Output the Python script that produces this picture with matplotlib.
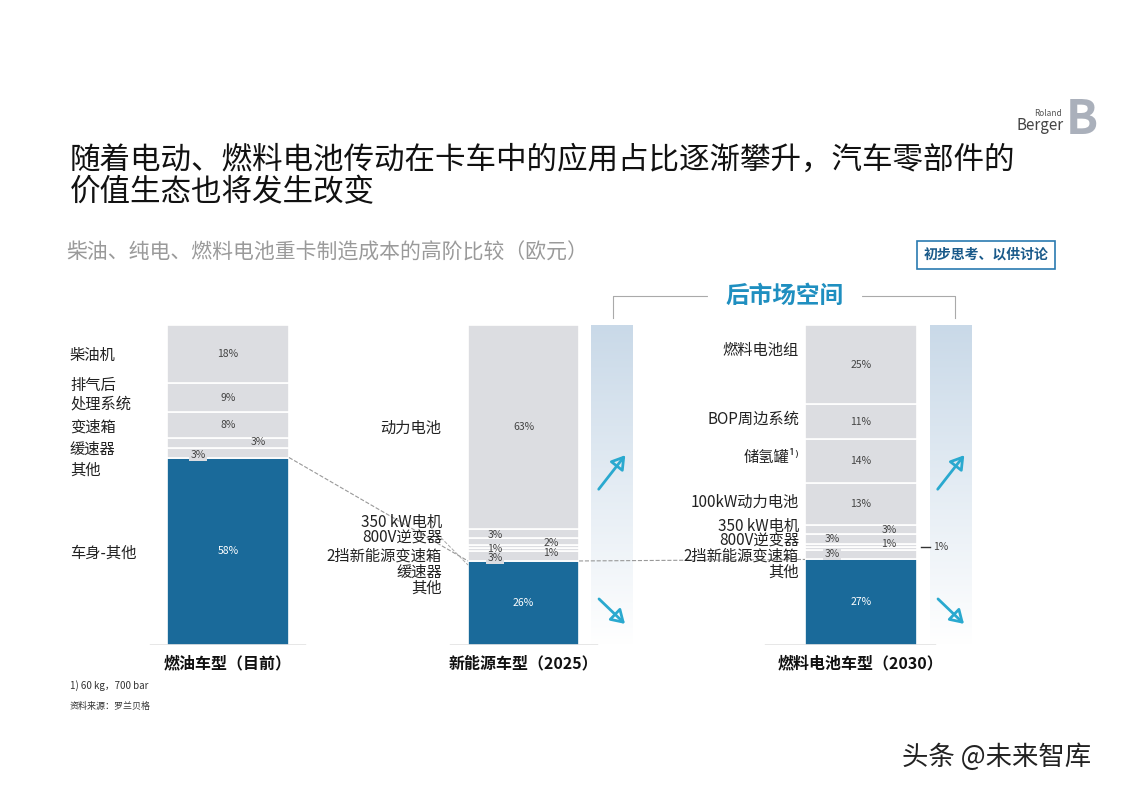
import matplotlib
matplotlib.use("Agg")
import matplotlib.pyplot as plt
import numpy as np
from matplotlib.colors import LinearSegmentedColormap

plt.rcParams['font.family'] = ['Noto Sans CJK SC', 'DejaVu Sans']

categories = ["燃油车型（目前）", "新能源车型（2025）", "燃料电池车型（2030）"]
seg1_names = ["车身-其他", "其他", "缓速器", "变速箱", "排气后\n处理系统", "柴油机"]
seg1_vals = [58, 3, 3, 8, 9, 18]
seg2_names = ["车身-其他", "其他", "缓速器", "2挡新能源变速箱", "800V逆变器", "350 kW电机", "动力电池"]
seg2_vals = [26, 3, 1, 1, 2, 3, 63]
seg3_names = ["车身-其他", "其他", "2挡新能源变速箱", "800V逆变器", "350 kW电机", "350 kW电机b", "100kW动力电池", "储氢罐¹⁾", "BOP周边系统", "燃料电池组"]
seg3_vals = [27, 3, 1, 1, 3, 3, 13, 14, 11, 25]

W, H = 1122, 793
fig = plt.figure(figsize=(W/100, H/100), dpi=100)
fig.patch.set_facecolor("white")

def T(x, y, s, **kw):
    fig.text(x/W, 1-y/H, s, **kw)

ax = fig.add_axes([0, (H-645)/H, 1, 320/H])
ax.set_xlim(0, W)
ax.set_ylim(0, 100)
ax.axis("off")

BLUE = "#1a6a9a"
GREY = "#dcdde1"
specs = [(228, 122, seg1_vals), (523.5, 111, seg2_vals), (861, 112, seg3_vals)]
tops = []
for cx, w, vals in specs:
    tot = sum(vals)
    v = np.array(vals) / tot * 100
    bottoms = np.concatenate([[0], np.cumsum(v)[:-1]])
    cols = [BLUE] + [GREY]*(len(v)-1)
    ax.bar(cx, v, width=w, bottom=bottoms, color=cols, edgecolor="white", linewidth=1.2)
    tops.append((cx, w, bottoms, v))

grad = np.linspace(0, 1, 256).reshape(-1, 1)
cm = LinearSegmentedColormap.from_list("g", ["#ffffff", "#c9d9e8"])
for x0 in (591, 930):
    ax.imshow(grad, extent=(x0, x0+42, 0, 100), cmap=cm, aspect="auto", origin="lower", zorder=0)
ax.set_xlim(0, W); ax.set_ylim(0, 100)

lab = dict(fontsize=7.5, color="#444444", ha="center", va="center")
boxlab = dict(lab, bbox=dict(boxstyle="square,pad=0.1", fc=GREY, ec="none"))
wlab = dict(fontsize=7.5, color="white", ha="center", va="center")
def mid(i, j):
    b, v = tops[i][2], tops[i][3]
    return b[j] + v[j]/2

c = 228
ax.text(c, mid(0, 0), "58%", **wlab)
ax.text(198, 59.3, "3%", **boxlab)
ax.text(258, 63.5, "3%", **lab)
ax.text(c, mid(0, 3), "8%", **lab)
ax.text(c, mid(0, 4), "9%", **lab)
ax.text(c, mid(0, 5), "18%", **lab)
c = 523.5
ax.text(c, mid(1, 0), "26%", **wlab)
ax.text(495, 27.2, "3%", **boxlab)
ax.text(495, 30, "1%", **lab)
ax.text(551, 28.8, "1%", **lab)
ax.text(551, 31.8, "2%", **lab)
ax.text(495, 34.5, "3%", **lab)
ax.text(c, mid(1, 6), "63%", **lab)
c = 861
ax.text(c, mid(2, 0), "27%", **wlab)
ax.text(832, 28.3, "3%", **boxlab)
ax.text(889, 31.5, "1%", **lab)
ax.text(832, 33, "3%", **lab)
ax.text(889, 36, "3%", **lab)
ax.text(c, mid(2, 6), "13%", **lab)
ax.text(c, mid(2, 7), "14%", **lab)
ax.text(c, mid(2, 8), "11%", **lab)
ax.text(c, mid(2, 9), "25%", **lab)
ax.plot([921, 930], [30.5, 30.5], color="#333", lw=1)
ax.text(933, 30.5, "1%", fontsize=7.5, color="#444", va="center")

ax.plot([289, 468], [tops[0][3][0], tops[1][3][0]], ls="--", color="#999", lw=0.8)
ax.plot([579, 805], [tops[1][3][0], tops[2][3][0]], ls="--", color="#999", lw=0.8)
ax.plot([430, 468], [37, 25], ls="--", color="#aaa", lw=0.7)

for a, b in [(150, 305), (450, 597), (765, 935)]:
    ax.plot([a, b], [0, 0], color="#888", lw=1)

for x0 in (591, 930):
    ax.annotate("", xy=(x0+36, 60), xytext=(x0+6, 48),
                arrowprops=dict(arrowstyle="-|>,head_length=0.8,head_width=0.5", color="#2aa9cf", lw=2, fill=False))
    ax.annotate("", xy=(x0+36, 6), xytext=(x0+6, 15),
                arrowprops=dict(arrowstyle="-|>,head_length=0.8,head_width=0.5", color="#2aa9cf", lw=2, fill=False))

for (cx, w, _), name in zip(specs, categories):
    T(cx, 663, name, fontsize=11.5, weight="bold", ha="center", va="center", color="#111")

cl = dict(fontsize=11, color="#222")
T(70, 355, "柴油机", va="center", **cl)
T(70, 395, "排气后\n处理系统", va="center", linespacing=1.1, **cl)
T(70, 427, "变速箱", va="center", **cl)
T(70, 449, "缓速器", va="center", **cl)
T(70, 470, "其他", va="center", **cl)
T(70, 553, "车身-其他", va="center", **cl)

T(441, 428, "动力电池", va="center", ha="right", **cl)
for y, s in [(522, "350 kW电机"), (538, "800V逆变器"), (556, "2挡新能源变速箱"), (572, "缓速器"), (588, "其他")]:
    T(442, y, s, va="center", ha="right", fontsize=11, color="#222")

for y, s in [(350, "燃料电池组"), (419, "BOP周边系统"), (457, "储氢罐¹⁾"), (502, "100kW动力电池"), (526, "350 kW电机"), (541, "800V逆变器"), (556, "2挡新能源变速箱"), (572, "其他")]:
    T(799, y, s, va="center", ha="right", fontsize=11, color="#222")

T(70, 160, "随着电动、燃料电池传动在卡车中的应用占比逐渐攀升，汽车零部件的", fontsize=22, va="center", color="#111")
T(70, 193, "价值生态也将发生改变", fontsize=22, va="center", color="#111")
T(66, 253, "柴油、纯电、燃料电池重卡制造成本的高阶比较（欧元）", fontsize=15, va="center", color="#9a9a9a")
T(986, 255, "初步思考、以供讨论", fontsize=10, weight="bold", ha="center", va="center", color="#1a5a8a",
  bbox=dict(boxstyle="square,pad=0.5", fc="white", ec="#2a7ab0", lw=1.2))

ax2 = fig.add_axes([0, 0, 1, 1]); ax2.set_xlim(0, W); ax2.set_ylim(H, 0); ax2.axis("off")
ax2.plot([613, 613, 955, 955], [318, 296, 296, 318], color="#aaa", lw=0.8)
ax2.plot([710, 860], [296, 296], color="white", lw=3)
T(785, 296, "后市场空间", fontsize=17, weight="bold", style="italic", color="#1f8fc0", ha="center", va="center")

T(70, 686, "1) 60 kg，700 bar", fontsize=7, color="#333", va="center")
T(70, 706, "资料来源：罗兰贝格", fontsize=6.5, color="#333", va="center")

T(1062, 113, "Roland", fontsize=6, color="#555", ha="right", va="center")
T(1064, 126, "Berger", fontsize=11, color="#444", ha="right", va="center")
T(1082, 120, "B", fontsize=34, color="#aab0bb", ha="center", va="center", weight="bold")

T(997, 757, "头条 @未来智库", fontsize=19, color="#222", ha="center", va="center")

fig.savefig("out.png", dpi=100, facecolor="white")
